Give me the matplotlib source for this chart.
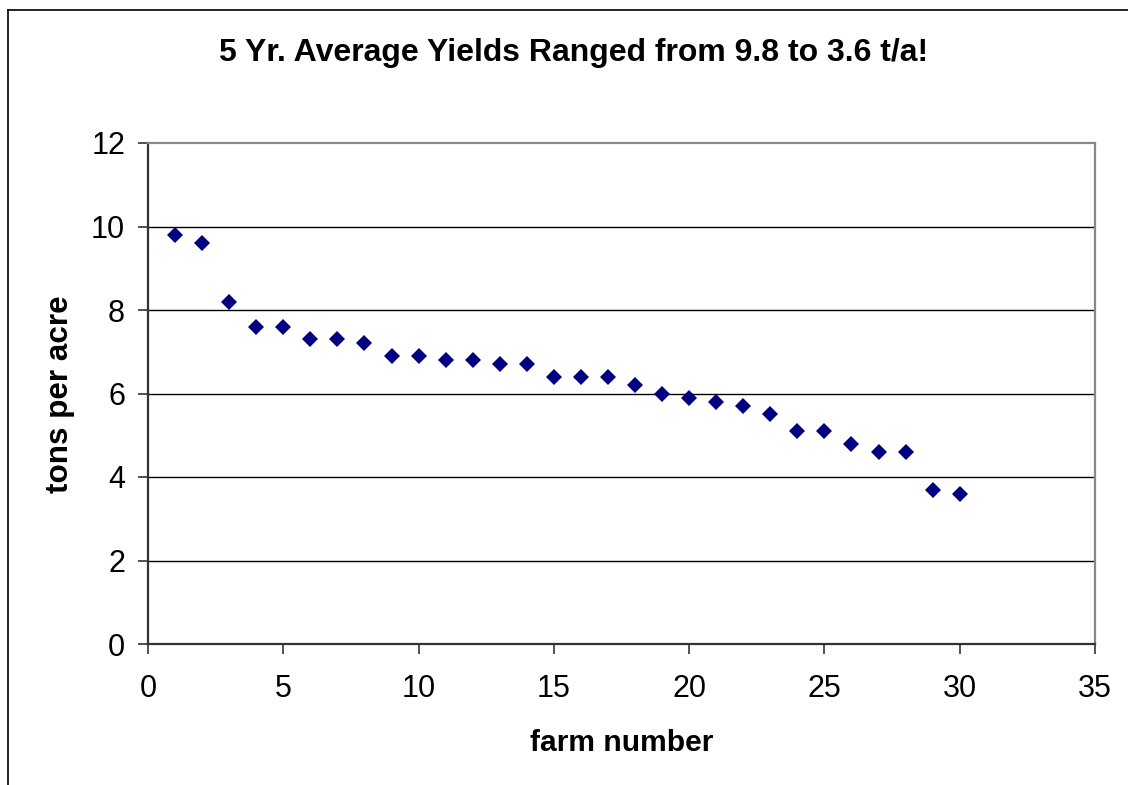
import matplotlib
matplotlib.use("Agg")
import matplotlib.pyplot as plt
from matplotlib.lines import Line2D

plt.rcParams['font.family'] = ['Liberation Sans', 'DejaVu Sans']

# farm number vs 5 yr average yield (tons per acre)
farm = list(range(1, 31))
yields = [9.8, 9.6, 8.2, 7.6, 7.6, 7.3, 7.3, 7.2, 6.9, 6.9,
          6.8, 6.8, 6.7, 6.7, 6.4, 6.4, 6.4, 6.2, 6.0, 5.9,
          5.8, 5.7, 5.5, 5.1, 5.1, 4.8, 4.6, 4.6, 3.7, 3.6]
xticks = [0, 5, 10, 15, 20, 25, 30, 35]
yticks = [0, 2, 4, 6, 8, 10, 12]

W, H = 1128, 785
fig = plt.figure(figsize=(W / 100, H / 100), dpi=100)
ax = fig.add_axes([148 / W, 1 - 644 / H, (1095 - 148) / W, (644 - 143) / H])

# chart area border (left and top only visible)
fig.add_artist(Line2D([8 / W, 8 / W], [0, 1 - 10 / H], color='black', lw=1.2))
fig.add_artist(Line2D([8 / W, 1], [1 - 10 / H, 1 - 10 / H], color='black', lw=1.2))

ax.plot(farm, yields, linestyle='none', marker='D', markersize=8.2,
        color='#000080', markeredgewidth=0, zorder=3)

ax.set_xlim(0, 35)
ax.set_ylim(0, 12)
ax.set_xticks(xticks)
ax.set_yticks(yticks)
ax.tick_params(axis='both', direction='out', length=7, width=1.2, color='#333333',
               labelsize=22)
ax.tick_params(axis='x', pad=14.5)
ax.tick_params(axis='y', pad=9.5)

for y in yticks[1:-1]:
    ax.axhline(y, color='black', lw=1.0, zorder=1)

ax.spines['left'].set_color('#333333')
ax.spines['bottom'].set_color('#333333')
ax.spines['left'].set_linewidth(1.6)
ax.spines['bottom'].set_linewidth(1.6)
ax.spines['top'].set_color('#888888')
ax.spines['right'].set_color('#888888')
ax.spines['top'].set_linewidth(1.6)
ax.spines['right'].set_linewidth(1.6)

fig.text(574 / W, 1 - 53 / H, '5 Yr. Average Yields Ranged from 9.8 to 3.6 t/a!',
         ha='center', va='center', fontsize=23, fontweight='bold')
fig.text(622 / W, 1 - 743 / H, 'farm number', ha='center', va='center',
         fontsize=21.6, fontweight='bold')
fig.text(60 / W, 1 - 394 / H, 'tons per acre', ha='center', va='center',
         rotation=90, fontsize=22.6, fontweight='bold')

fig.savefig('out.png', dpi=100)
